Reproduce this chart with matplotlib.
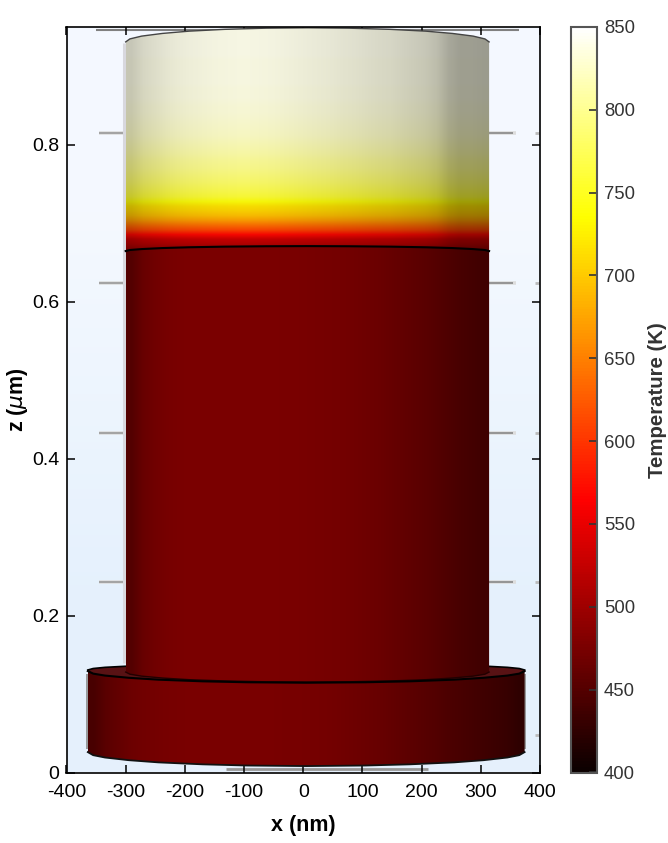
import matplotlib
matplotlib.use('Agg')
import matplotlib.pyplot as plt
import numpy as np
from matplotlib.patches import Polygon

plt.rcParams['font.family'] = ['Liberation Sans', 'DejaVu Sans']
plt.rcParams['axes.unicode_minus'] = False

# оси
x_ticks = [-400, -300, -200, -100, 0, 100, 200, 300, 400]
x_labels = ['-400', '-300', '-200', '-100', '0', '100', '200', '300', '400']
z_ticks = [0, 0.2, 0.4, 0.6, 0.8]
z_labels = ['0', '0.2', '0.4', '0.6', '0.8']
cbar_ticks = [400, 450, 500, 550, 600, 650, 700, 750, 800, 850]

# температура по слоям столбика, снизу вверх (K)
band_temp = [495, 515, 530, 570, 612, 640, 670, 693, 706, 718, 740, 759, 768, 776, 783, 788, 793,
             799, 802, 806, 810, 814, 818, 821, 824, 826, 828, 830, 832, 833, 834, 835, 836, 837,
             837, 838, 838, 838, 839, 839, 839, 840, 840, 840, 840, 840, 841, 841, 841, 841]
body_temp = 490

# освещенность граней столбика слева направо
upper_shade = [.78, .84, .87, .90, .92, .935, .945, .955, .96, .965, .965, .96, .955, .945, .935, .925,
               .915, .905, .89, .88, .865, .85, .84, .82, .80, .78, .74, .66, .62, .62, .61]
body_shade = [.58, .72, .78, .82, .84, .85, .85, .85, .85, .85, .85, .85, .85, .84, .84, .83,
              .82, .81, .80, .78, .76, .74, .71, .68, .65, .62, .58, .54, .50, .47, .44]
disk_shade = [.50, .62, .68, .74, .78, .80, .82, .83, .84, .84, .84, .84, .84, .84, .84, .84, .83, .83, .82,
              .81, .80, .78, .76, .74, .72, .69, .66, .63, .60, .57, .53, .50, .47, .44, .41, .38, .32]

# контуры (x в нм, z в мкм)
cyl_arc_x = [-300, -293, -273, -238, -193, -133, -63, 7, 77, 147, 207, 252, 287, 307, 314]
top_arc_z = [.9310, .9348, .9384, .9418, .9447, .9470, .9485, .9490, .9485, .9470, .9447, .9418, .9384, .9348, .9310]
iface_arc_z = [.6645, .6658, .6670, .6683, .6693, .6701, .6706, .6708, .6706, .6701, .6693, .6683, .6670, .6658, .6645]
foot_arc_z = [.1280, .1253, .1228, .1204, .1183, .1167, .1156, .1153, .1156, .1167, .1183, .1204, .1228, .1253, .1280]
disk_arc_x = [-364, -355, -335, -295, -245, -170, -95, 5, 105, 180, 255, 305, 345, 365, 374]
disk_bot_z = [.0260, .0221, .0191, .0157, .0129, .0104, .0089, .0082, .0089, .0104, .0129, .0157, .0191, .0221, .0260]
disk_front_z = [.1293, .1260, .1235, .1207, .1183, .1162, .1150, .1144, .1150, .1162, .1183, .1207, .1235, .1260, .1293]
disk_back_z = [.1306, .1325, .1340, .1356, .1370, .1383, .1390, .1393, .1390, .1383, .1370, .1356, .1340, .1325, .1306]

# обрывки задней рамки
grid_z = [.815, .624, .4325, .2427]
stub_z = [.815, .624, .4325, .2427, .048]

fig = plt.figure(figsize=(6.68, 8.43), dpi=100)
ax = fig.add_axes([66.5 / 668, 1 - 772.5 / 843, 473.5 / 668, 745.5 / 843])

x_min, x_max, z_min, z_max = -400, 400, 0, 0.95
norm = plt.Normalize(400, 850)
hot = plt.get_cmap('hot')

# фон
bg = np.array([[[0.96, 0.976, 1.0]], [[0.90, 0.945, 0.992]]])
ax.imshow(bg, extent=[x_min, x_max, z_min, z_max], aspect='auto', interpolation='bilinear', zorder=0)

# задняя рамка
ax.hlines(grid_z, -345, -300, color='#dddddd', lw=2.6, zorder=1)
ax.hlines(grid_z, -345, -300, color='#999999', lw=1.2, zorder=1)
ax.hlines(grid_z, 314, 360, color='#dddddd', lw=2.6, zorder=1)
ax.hlines(grid_z, 314, 355, color='#888888', lw=1.2, zorder=1)
ax.hlines(stub_z, 391, 398, color='#bbbbbb', lw=2, zorder=1)
ax.hlines([.9465], -350, 365, color='#808080', lw=1.5, zorder=1)
ax.hlines([.005], -130, 210, color='#999999', lw=2, zorder=1)
ax.vlines([-303], .14, .93, color='#d8d8de', lw=2.2, zorder=1)


def surface(x0, x1, z0, z1, temp, shade, clip, zo):
    # столбцы - грани, строки - слои по температуре
    rgb = hot(norm(np.array(temp)))[:, :3]
    img = rgb[:, None, :] * np.array(shade)[None, :, None]
    im = ax.imshow(img, extent=[x0, x1, z0, z1], origin='lower', aspect='auto', interpolation='bilinear', zorder=zo)
    im.set_clip_path(clip)
    return im


def outline(xs, zs_up, zs_low):
    pts = list(zip(xs, zs_up)) + list(zip(xs[::-1], zs_low[::-1]))
    return Polygon(pts, closed=True, transform=ax.transData, fc='none', ec='none')


# столбик: сначала тело, потом верх
body_clip = outline(cyl_arc_x, iface_arc_z, foot_arc_z)
upper_clip = outline(cyl_arc_x, top_arc_z, iface_arc_z)
surface(-300, 314, .10, .68, [body_temp, body_temp], body_shade, body_clip, 3)
surface(-300, 314, .664, .964, band_temp, upper_shade, upper_clip, 3)

# нижний диск
ax.fill(disk_arc_x + disk_arc_x[::-1], disk_back_z + disk_front_z[::-1], color='#581214', lw=0, zorder=2)
disk_clip = outline(disk_arc_x, disk_front_z, disk_bot_z)
surface(-364, 374, 0, .14, [body_temp, body_temp], disk_shade, disk_clip, 4)

ax.plot(cyl_arc_x, top_arc_z, color='#444444', lw=1.0, zorder=5)
ax.plot(cyl_arc_x, iface_arc_z, color='black', lw=1.5, zorder=5)
ax.plot(cyl_arc_x, foot_arc_z, color='#220000', lw=1.0, zorder=3.5)
ax.plot(disk_arc_x, disk_front_z, color='black', lw=1.5, zorder=5)
ax.plot(disk_arc_x, disk_bot_z, color='#111111', lw=1.3, zorder=5)
ax.plot(disk_arc_x[:4], disk_back_z[:4], color='black', lw=1.2, zorder=2.5)
ax.plot(disk_arc_x[-4:], disk_back_z[-4:], color='black', lw=1.2, zorder=2.5)
ax.vlines([-365, 375], .03, .126, color='#8a8a8a', lw=1.2, zorder=3)

ax.set_xlim(x_min, x_max)
ax.set_ylim(z_min, z_max)
ax.set_xticks(x_ticks)
ax.set_xticklabels(x_labels)
ax.set_yticks(z_ticks)
ax.set_yticklabels(z_labels)
ax.tick_params(direction='in', top=True, right=True, length=6, width=1.1, labelsize=14, pad=8)
ax.tick_params(axis='y', pad=5)
for sp in ax.spines.values():
    sp.set_linewidth(1.2)
    sp.set_zorder(6)
ax.set_xlabel('x (nm)', fontsize=15.5, fontweight='bold', labelpad=10)
ax.set_ylabel(r'z ($\mathit{\mu}$m)', fontsize=15.5, fontweight='bold', labelpad=2)

# шкала температуры
cax = fig.add_axes([570.5 / 668, 1 - 772.5 / 843, 26.5 / 668, 745.5 / 843])
sm = plt.cm.ScalarMappable(norm=norm, cmap=hot)
cb = fig.colorbar(sm, cax=cax)
cb.set_ticks(cbar_ticks)
cb.ax.tick_params(direction='in', length=6, width=1.2, color='#333333', labelcolor='#333333', labelsize=13.3, pad=5)
cb.outline.set_edgecolor('#555555')
cb.outline.set_linewidth(1.5)
cb.set_label('Temperature (K)', fontsize=14.7, fontweight='bold', color='#333333', labelpad=9)

fig.savefig('out.png', dpi=100)
